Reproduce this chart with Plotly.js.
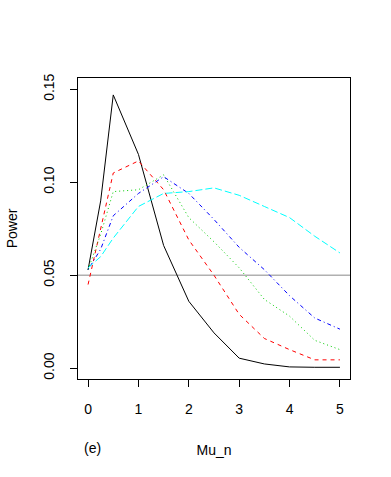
<!DOCTYPE html>
<html>
<head>
<meta charset="utf-8">
<script src="https://cdn.plot.ly/plotly-3.0.1.min.js"></script>
<style>
  html, body { margin: 0; padding: 0; background: #fff; }
  #plot1 { width: 391px; height: 477px; }
</style>
</head>
<body>
<div id="plot1"></div>
<script>
// mu grid
const mu_n = [0, 0.25, 0.5, 1, 1.5, 2, 2.5, 3, 3.5, 4, 4.5, 5];

// power curves
const power_black = [0.053, 0.090, 0.147, 0.115, 0.066, 0.036, 0.019, 0.0054, 0.0023, 0.0007, 0.0005, 0.0005];
const power_red = [0.045, 0.075, 0.105, 0.1115, 0.096, 0.069, 0.050, 0.029, 0.016, 0.010, 0.0045, 0.0045];
const power_green = [0.053, 0.072, 0.095, 0.096, 0.104, 0.081, 0.068, 0.054, 0.037, 0.028, 0.015, 0.010];
const power_blue = [0.053, 0.064, 0.082, 0.094, 0.103, 0.094, 0.080, 0.065, 0.053, 0.039, 0.027, 0.021];
const power_cyan = [0.054, 0.060, 0.070, 0.087, 0.094, 0.095, 0.097, 0.093, 0.087, 0.081, 0.071, 0.062];

// nominal level
const alpha = 0.05;

const xTicks = [0, 1, 2, 3, 4, 5];
const yTicks = [0, 0.05, 0.10, 0.15];
const yTickText = ['0.00', '0.05', '0.10', '0.15'];

function curve(y, color, dash) {
    return {
        x: mu_n,
        y: y,
        type: 'scatter',
        mode: 'lines',
        line: { color: color, width: 1, dash: dash },
        hoverinfo: 'skip',
    };
}

const data = [
    // reference line at alpha
    {
        x: [-0.2, 5.2],
        y: [alpha, alpha],
        type: 'scatter',
        mode: 'lines',
        line: { color: '#b0b0b0', width: 1.3 },
        hoverinfo: 'skip',
    },
    curve(power_black, '#000000', 'solid'),
    curve(power_red, '#ff0000', '4px,4px'),
    curve(power_green, '#00cd00', '1px,3px'),
    curve(power_blue, '#0000ff', '1px,3px,4px,3px'),
    curve(power_cyan, '#00ffff', '7px,3px'),
];

const font = { family: 'Liberation Sans, Arial, sans-serif', size: 14, color: '#000' };

const layout = {
    width: 391,
    height: 477,
    showlegend: false,
    paper_bgcolor: '#fff',
    plot_bgcolor: '#fff',
    font: font,
    margin: { l: 78, r: 41, t: 78, b: 98 },
    xaxis: {
        range: [-0.2, 5.2],
        tickvals: xTicks,
        ticks: 'outside',
        ticklen: 7,
        tickcolor: '#000',
        ticklabelstandoff: 10,
        showgrid: false,
        zeroline: false,
        showline: true,
        mirror: true,
        linecolor: '#000',
        linewidth: 1,
        tickfont: font,
        title: { text: 'Mu_n', font: font, standoff: 29 },
    },
    yaxis: {
        range: [-0.0058, 0.1561],
        tickvals: yTicks,
        ticktext: yTickText,
        tickangle: -90,
        ticks: 'outside',
        ticklen: 7,
        tickcolor: '#000',
        ticklabelstandoff: 10,
        showgrid: false,
        zeroline: false,
        showline: true,
        mirror: true,
        linecolor: '#000',
        linewidth: 1,
        tickfont: font,
        title: { text: 'Power', font: font, standoff: 20 },
    },
    annotations: [
        {
            text: '(e)',
            xref: 'paper',
            yref: 'paper',
            x: 0.055,
            y: -0.229,
            xanchor: 'center',
            yanchor: 'middle',
            showarrow: false,
            font: font,
        },
    ],
};

Plotly.newPlot('plot1', data, layout, { displayModeBar: false, staticPlot: true });
</script>
</body>
</html>
